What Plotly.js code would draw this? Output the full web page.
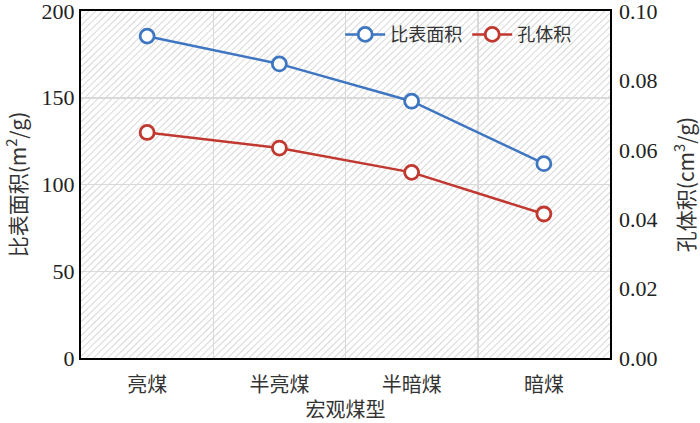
<!DOCTYPE html>
<html>
<head>
<meta charset="utf-8">
<script src="https://cdn.plot.ly/plotly-3.0.1.min.js"></script>
<style>
  html, body { margin: 0; padding: 0; background: #fff; }
  #plot { width: 700px; height: 423px; }
</style>
</head>
<body>
<div id="plot"></div>
<script>
const categories = ['亮煤', '半亮煤', '半暗煤', '暗煤'];
const surfaceArea = [185.5, 169.5, 148, 112];
const poreVolume = [0.065, 0.0605, 0.0535, 0.0415];

const FONT = '"Liberation Serif", "Times New Roman", "Noto Sans CJK SC", serif';
const CJK = '"Noto Sans CJK SC", sans-serif';
const BLUE = '#3f76c2';
const RED = '#c0382f';

// diagonal hatching for the plot background
const hatch = '<svg xmlns="http://www.w3.org/2000/svg" width="529" height="356">' +
    '<defs><pattern id="h" width="5" height="5" patternUnits="userSpaceOnUse" patternTransform="rotate(45)">' +
    '<line x1="0" y1="0" x2="0" y2="5" stroke="#bcbcbc" stroke-width="1.2"/></pattern></defs>' +
    '<rect width="529" height="356" fill="#fff"/><rect width="529" height="356" fill="url(#h)"/></svg>';

const traces = [
    {
        x: categories, y: surfaceArea, name: '比表面积',
        type: 'scatter', mode: 'lines+markers', yaxis: 'y',
        line: { color: BLUE, width: 2.5 },
        marker: { symbol: 'circle', size: 14, color: '#fff', line: { color: BLUE, width: 2.8 } }
    },
    {
        x: categories, y: poreVolume, name: '孔体积',
        type: 'scatter', mode: 'lines+markers', yaxis: 'y2',
        line: { color: RED, width: 2.5 },
        marker: { symbol: 'circle', size: 14, color: '#fff', line: { color: RED, width: 2.8 } }
    }
];

const layout = {
    width: 700, height: 423,
    margin: { l: 81, r: 90, t: 11, b: 65 },
    paper_bgcolor: '#fff',
    plot_bgcolor: 'rgba(0,0,0,0)',
    font: { family: FONT, color: '#222', size: 19 },
    showlegend: true,
    legend: {
        orientation: 'h', x: 0.49, y: 0.985, xanchor: 'left', yanchor: 'top',
        bgcolor: 'rgba(0,0,0,0)', font: { family: CJK, size: 18, color: '#333' },
        itemwidth: 40, traceorder: 'normal'
    },
    xaxis: {
        type: 'category', range: [-0.5, 3.5], tickson: 'boundaries',
        showgrid: true, gridcolor: '#d9d9d9', gridwidth: 1.5,
        showline: true, linecolor: '#000', linewidth: 2, mirror: true,
        ticks: '', fixedrange: true, ticklabelstandoff: 8,
        tickfont: { family: CJK, size: 20, color: '#333' },
        title: { text: '宏观煤型', font: { family: CJK, size: 20, color: '#333' }, standoff: 6 }
    },
    yaxis: {
        range: [0, 200], dtick: 50, ticklabeloverflow: 'allow',
        showgrid: true, gridcolor: '#d9d9d9', gridwidth: 1.5,
        showline: true, linecolor: '#000', linewidth: 2, mirror: true,
        ticks: '', zeroline: false, fixedrange: true,
        tickfont: { family: FONT, size: 22, color: '#222' },
        title: { text: '比表面积(m<sup>2</sup>/g)', font: { family: CJK, size: 21, color: '#333' }, standoff: 13 }
    },
    yaxis2: {
        overlaying: 'y', side: 'right', range: [0, 0.1], dtick: 0.02, tickformat: '.2f',
        ticklabeloverflow: 'allow', ticklabelstandoff: 8,
        showgrid: false, zeroline: false, ticks: '', fixedrange: true,
        tickfont: { family: FONT, size: 22, color: '#222' },
        title: { text: '孔体积(cm<sup>3</sup>/g)', font: { family: CJK, size: 21, color: '#333' }, standoff: 22 }
    },
    images: [{
        source: 'data:image/svg+xml;charset=utf-8,' + encodeURIComponent(hatch),
        xref: 'paper', yref: 'paper', x: 0, y: 1, sizex: 1, sizey: 1,
        xanchor: 'left', yanchor: 'top', sizing: 'stretch', layer: 'below'
    }]
};

Plotly.newPlot('plot', traces, layout, { displayModeBar: false, staticPlot: true });
</script>
</body>
</html>
